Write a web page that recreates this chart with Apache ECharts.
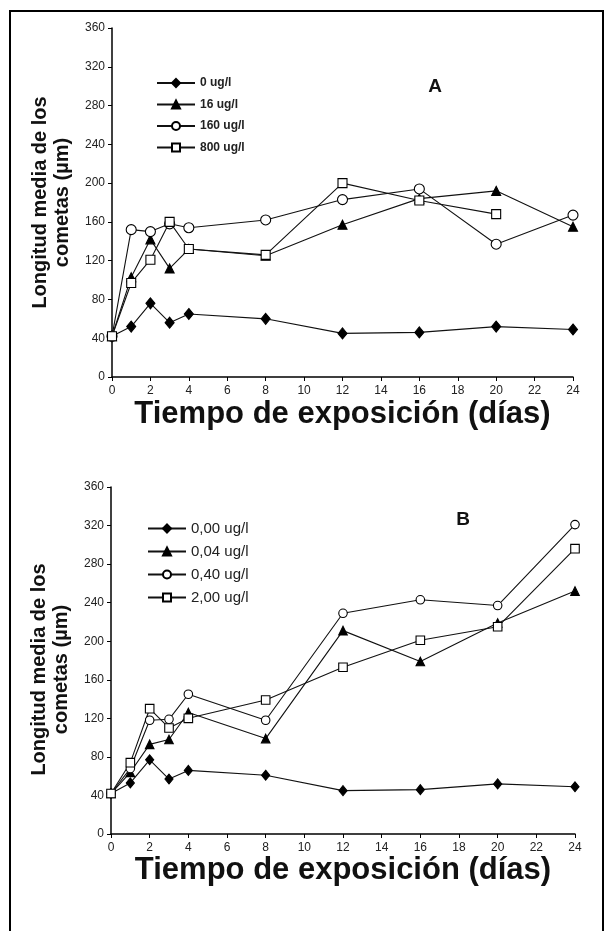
<!DOCTYPE html>
<html>
<head>
<meta charset="utf-8">
<script src="https://cdn.jsdelivr.net/npm/echarts@6/dist/echarts.min.js"></script>
<style>
html,body{margin:0;padding:0;background:#fff;}
#chart{width:605px;height:931px;}
</style>
</head>
<body>
<div id="chart"></div>
<script>
// Days of exposure (x values)
const days = [0, 1, 2, 3, 4, 8, 12, 16, 20, 24];
const xTicks = ['0','2','4','6','8','10','12','14','16','18','20','22','24'];
const yTicks = ['0','40','80','120','160','200','240','280','320','360'];

// Panel A
const namesA = ['0 ug/l', '16 ug/l', '160 ug/l', '800 ug/l'];
const a0   = [42, 52, 76, 56, 65, 60, 45, 46, 52, 49];
const a16  = [42, 103, 142, 112, 132, 125, 157, 184, 192, 155];
const a160 = [42, 152, 150, 158, 154, 162, 183, 194, 137, 167];
const a800 = [42, 97, 121, 160, 132, 126, 200, 182, 168, null];

// Panel B
const namesB = ['0,00 ug/l', '0,04 ug/l', '0,40 ug/l', '2,00 ug/l'];
const b000 = [42, 53, 77, 57, 66, 61, 45, 46, 52, 49];
const b004 = [42, 64, 93, 98, 126, 99, 211, 179, 219, 252];
const b040 = [42, 68, 118, 119, 145, 118, 229, 243, 237, 321];
const b200 = [42, 74, 130, 110, 120, 139, 173, 201, 215, 296];

const xTitle = 'Tiempo de exposición (días)';
const yTitle = 'Longitud media de los\ncometas (µm)';

const FONT = '"Liberation Sans", Arial, Helvetica, sans-serif';

function pairs(vals) {
  const out = [];
  vals.forEach((v, i) => { if (v !== null) out.push([days[i], v]); });
  return out;
}

const markerStyles = [
  {symbol: 'diamond', size: [9, 11], fill: '#000'},
  {symbol: 'triangle', size: 9, fill: '#000'},
  {symbol: 'circle', size: 10, fill: '#fff'},
  {symbol: 'rect', size: 9, fill: '#fff'}
];

function mkSeries(name, vals, k, gi, scale) {
  const m = markerStyles[k];
  let size = m.size;
  if (scale !== 1) size = Array.isArray(size) ? size.map(s => s * scale) : size * scale;
  return {
    name: name,
    type: 'line',
    xAxisIndex: gi, yAxisIndex: gi,
    data: pairs(vals),
    symbol: m.symbol,
    symbolSize: size,
    showAllSymbol: true,
    animation: false,
    lineStyle: {color: '#111', width: 1.1},
    itemStyle: {color: m.fill, borderColor: '#000', borderWidth: 1.1},
    emphasis: {disabled: true},
    z: 3 + (k === 2 || k === 3 ? 1 : 0)
  };
}

function xAxisCfg(gi, gap) {
  return {
    gridIndex: gi, type: 'value', min: 0, max: 24, interval: 2,
    axisLine: {lineStyle: {color: '#000', width: 1.5}},
    axisTick: {length: 4, lineStyle: {color: '#000', width: 1}},
    axisLabel: {color: '#222', fontFamily: FONT, fontSize: 12, margin: 8,
      formatter: v => xTicks[Math.round(v / 2)]},
    splitLine: {show: false},
    name: xTitle, nameLocation: 'middle', nameGap: gap,
    nameTextStyle: {color: '#111', fontFamily: FONT, fontSize: 31, fontWeight: 'bold'}
  };
}
function yAxisCfg(gi, pad) {
  return {
    gridIndex: gi, type: 'value', min: 0, max: 360, interval: 40,
    axisLine: {show: true, lineStyle: {color: '#000', width: 1.5}},
    axisTick: {show: true, length: 4, lineStyle: {color: '#000', width: 1}},
    axisLabel: {color: '#222', fontFamily: FONT, fontSize: 12, margin: 7,
      formatter: v => yTicks[Math.round(v / 40)]},
    splitLine: {show: false},
    name: yTitle, nameLocation: 'middle', nameGap: 39, nameRotate: 90,
    nameTextStyle: {color: '#111', fontFamily: FONT, fontSize: 20, fontWeight: 'bold', lineHeight: 22,
      padding: pad}
  };
}

const chart = echarts.init(document.getElementById('chart'), null, {renderer: 'canvas'});
chart.setOption({
  backgroundColor: '#fff',
  animation: false,
  grid: [
    {left: 112, right: 32, top: 28, height: 349},
    {left: 111, right: 30, top: 487, height: 347}
  ],
  xAxis: [xAxisCfg(0, 22), xAxisCfg(1, 16)],
  yAxis: [yAxisCfg(0, [0, 0, 0, 0]), yAxisCfg(1, [0, 18, 0, 0])],
  legend: [
    {data: namesA, orient: 'vertical', left: 151, top: 72, itemWidth: 38, itemHeight: 10,
      itemGap: 9.5, selectedMode: false,
      textStyle: {fontFamily: FONT, fontSize: 12, fontWeight: 'bold', color: '#222'}},
    {data: namesB, orient: 'vertical', left: 142, top: 516, itemWidth: 38, itemHeight: 10,
      itemGap: 8, selectedMode: false,
      textStyle: {fontFamily: FONT, fontSize: 15, color: '#222'}}
  ],
  graphic: [
    {type: 'rect', shape: {x: 10, y: 11, width: 593, height: 930}, silent: true,
      style: {fill: 'none', stroke: '#000', lineWidth: 2}},
    {type: 'text', x: 435, y: 87, silent: true,
      style: {text: 'A', fill: '#111', font: 'bold 19px ' + FONT, textAlign: 'center', textVerticalAlign: 'middle'}},
    {type: 'text', x: 463, y: 520, silent: true,
      style: {text: 'B', fill: '#111', font: 'bold 19px ' + FONT, textAlign: 'center', textVerticalAlign: 'middle'}}
  ],
  series: [
    mkSeries(namesA[0], a0, 0, 0, 1),
    mkSeries(namesA[1], a16, 1, 0, 1),
    mkSeries(namesA[2], a160, 2, 0, 1),
    mkSeries(namesA[3], a800, 3, 0, 1),
    mkSeries(namesB[0], b000, 0, 1, 0.9),
    mkSeries(namesB[1], b004, 1, 1, 0.95),
    mkSeries(namesB[2], b040, 2, 1, 0.85),
    mkSeries(namesB[3], b200, 3, 1, 0.95)
  ]
});
</script>
</body>
</html>
